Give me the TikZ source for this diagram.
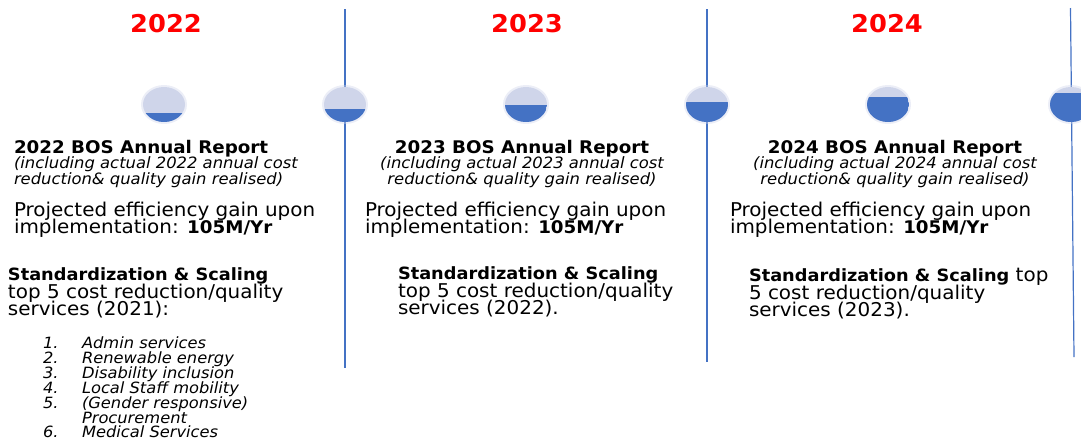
\documentclass[tikz,border=0pt]{standalone}
\usepackage{fontspec}
\setmainfont{DejaVu Sans}[FakeStretch=1.05]
\usetikzlibrary{shapes.geometric}
\definecolor{yearred}{HTML}{FF0000}
\definecolor{lineblue}{HTML}{4472C4}
\definecolor{balllight}{HTML}{CFD5EA}
\definecolor{balldark}{HTML}{4472C4}
% bold run-in heading and bold amount inside body lines
\newcommand{\scalingheadfont}{\fontsize{16.9}{19}\selectfont\bfseries}
\newcommand{\amountfont}{\fontsize{17.4}{19}\selectfont\bfseries}
\begin{document}
\begin{tikzpicture}[x=1pt,y=-1pt,
  every node/.style={inner sep=0pt, outer sep=0pt},
  yearlabel/.style={anchor=base, text=yearred, font=\fontsize{24.5}{25}\selectfont\bfseries},
  report/.style={font=\fontsize{17.4}{18}\selectfont\bfseries},
  remark/.style={font=\fontsize{15.6}{16}\selectfont\itshape},
  body/.style={anchor=base west, font=\fontsize{19}{19}\selectfont},
  listno/.style={anchor=base west, font=\fontsize{15.5}{15}\selectfont\itshape},
  listitem/.style={anchor=base west, font=\fontsize{15.5}{15}\selectfont\itshape},
  timeline/.style={draw=lineblue, line width=1.2pt},
  milestone/.style={ellipse, minimum width=42pt, minimum height=35pt,
    fill=balllight,
    preaction={draw=balllight, line width=4pt, draw opacity=0.4},
    path picture={\fill[balldark] (path picture bounding box.south west)
      rectangle ([yshift=#1 pt]path picture bounding box.south east);}}
]
\useasboundingbox (0,0) rectangle (1081,440);

% year headings
\node[yearlabel] (y2022) at (166,32) {2022};
\node[yearlabel] (y2023) at (527,32) {2023};
\node[yearlabel] (y2024) at (887,32) {2024};

% vertical year separators
\coordinate (s1top) at (345,9);     \coordinate (s1bot) at (345,368);
\coordinate (s2top) at (707,9);     \coordinate (s2bot) at (707,362);
\coordinate (s3top) at (1070.5,8);  \coordinate (s3bot) at (1074,357);
\draw[timeline] (s1top) -- (s1bot);
\draw[timeline] (s2top) -- (s2bot);
\draw[timeline] (s3top) -- (s3bot);

% progress markers, filling up over time
\node[milestone=9]  (m1) at (164,104.5) {};
\node[milestone=13] (m2) at (345,104.5) {};
\node[milestone=17] (m3) at (526,104.5) {};
\node[milestone=20] (m4) at (707,104.5) {};
\node[milestone=25] (m5) at (888,104.5) {};
\node[milestone=29] (m6) at (1071,104.5) {};

% ---- 2022 column
\node[report, anchor=base west] (r1) at (14,153) {2022 BOS Annual Report};
\node[remark, anchor=base west] (r1a) at (14,168) {(including actual 2022 annual cost};
\node[remark, anchor=base west] (r1b) at (14,184) {reduction\& quality gain realised)};
\node[body] (p1a) at (14,216) {Projected efficiency gain upon};
\node[body] (p1b) at (14,233) {implementation: {\amountfont 105M/Yr}};
\node[body] (c1a) at (8,280) {{\scalingheadfont Standardization \& Scaling}};
\node[body] (c1b) at (8,298) {top 5 cost reduction/quality};
\node[body] (c1c) at (8,315) {services (2021):};
\node[listno] (n1) at (43,348) {1.};  \node[listitem] (i1) at (82,348) {Admin services};
\node[listno] (n2) at (43,363) {2.};  \node[listitem] (i2) at (82,363) {Renewable energy};
\node[listno] (n3) at (43,378) {3.};  \node[listitem] (i3) at (82,378) {Disability inclusion};
\node[listno] (n4) at (43,393) {4.};  \node[listitem] (i4) at (82,393) {Local Staff mobility};
\node[listno] (n5) at (43,408) {5.};  \node[listitem] (i5) at (82,408) {(Gender responsive)};
                                       \node[listitem] (i5b) at (82,423) {Procurement};
\node[listno] (n6) at (43,437.5) {6.};  \node[listitem] (i6) at (82,437.5) {Medical Services};

% ---- 2023 column
\node[report, anchor=base] (r2) at (522,153) {2023 BOS Annual Report};
\node[remark, anchor=base] (r2a) at (522,168) {(including actual 2023 annual cost};
\node[remark, anchor=base] (r2b) at (522,184) {reduction\& quality gain realised)};
\node[body] (p2a) at (365,216) {Projected efficiency gain upon};
\node[body] (p2b) at (365,233) {implementation: {\amountfont 105M/Yr}};
\node[body] (c2a) at (398,279) {{\scalingheadfont Standardization \& Scaling}};
\node[body] (c2b) at (398,297) {top 5 cost reduction/quality};
\node[body] (c2c) at (398,314) {services (2022).};

% ---- 2024 column
\node[report, anchor=base] (r3) at (895,153) {2024 BOS Annual Report};
\node[remark, anchor=base] (r3a) at (895,168) {(including actual 2024 annual cost};
\node[remark, anchor=base] (r3b) at (895,184) {reduction\& quality gain realised)};
\node[body] (p3a) at (730,216) {Projected efficiency gain upon};
\node[body] (p3b) at (730,233) {implementation: {\amountfont 105M/Yr}};
\node[body] (c3a) at (749,281) {{\scalingheadfont Standardization \& Scaling} top};
\node[body] (c3b) at (749,299) {5 cost reduction/quality};
\node[body] (c3c) at (749,316) {services (2023).};
\end{tikzpicture}
\end{document}
